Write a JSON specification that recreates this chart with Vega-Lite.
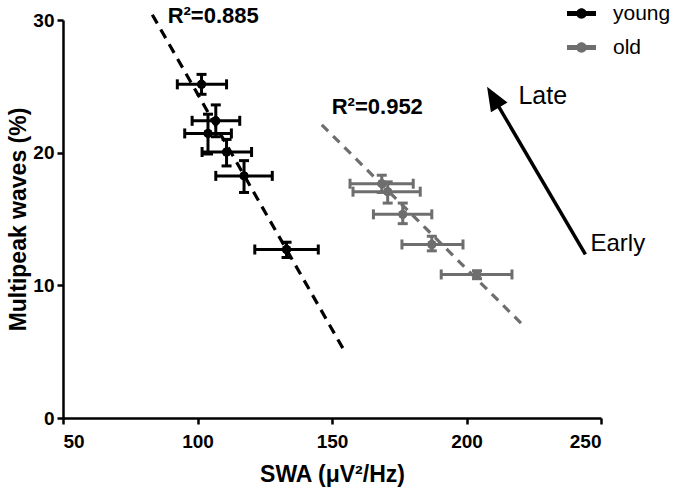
{
  "$schema": "https://vega.github.io/schema/vega-lite/v6.json",
  "width": 538,
  "height": 398,
  "autosize": {"type": "none"},
  "padding": {"left": 63, "top": 20, "right": 74, "bottom": 76},
  "background": "white",
  "config": {
    "view": {"stroke": null},
    "font": "Liberation Sans",
    "axis": {
      "grid": false,
      "domainColor": "black",
      "domainWidth": 2.5,
      "tickColor": "black",
      "tickWidth": 2.5,
      "tickSize": 6,
      "labelFont": "Liberation Sans",
      "labelFontWeight": "bold",
      "labelFontSize": 19,
      "labelColor": "black",
      "titleFont": "Liberation Sans",
      "titleFontWeight": "bold",
      "titleFontSize": 23,
      "titleColor": "black"
    }
  },
  "datasets": {
    "pts": [
      {"group": "young", "swa": 101.5, "swa_lo": 92.5, "swa_hi": 110.8, "mp": 25.15, "mp_lo": 24.4, "mp_hi": 25.9},
      {"group": "young", "swa": 106.8, "swa_lo": 98.0, "swa_hi": 115.7, "mp": 22.4, "mp_lo": 21.2, "mp_hi": 23.6},
      {"group": "young", "swa": 103.9, "swa_lo": 95.25, "swa_hi": 112.6, "mp": 21.45, "mp_lo": 19.9, "mp_hi": 22.9},
      {"group": "young", "swa": 110.8, "swa_lo": 101.7, "swa_hi": 120.1, "mp": 20.05, "mp_lo": 19.0, "mp_hi": 21.0},
      {"group": "young", "swa": 117.3, "swa_lo": 106.8, "swa_hi": 127.8, "mp": 18.25, "mp_lo": 17.0, "mp_hi": 19.4},
      {"group": "young", "swa": 133.1, "swa_lo": 121.3, "swa_hi": 144.9, "mp": 12.7, "mp_lo": 12.1, "mp_hi": 13.25},
      {"group": "old", "swa": 168.5, "swa_lo": 156.7, "swa_hi": 180.2, "mp": 17.66, "mp_lo": 17.0, "mp_hi": 18.3},
      {"group": "old", "swa": 170.7, "swa_lo": 157.8, "swa_hi": 182.8, "mp": 17.06, "mp_lo": 16.2, "mp_hi": 17.8},
      {"group": "old", "swa": 176.3, "swa_lo": 165.4, "swa_hi": 187.1, "mp": 15.35, "mp_lo": 14.65, "mp_hi": 16.2},
      {"group": "old", "swa": 187.1, "swa_lo": 176.0, "swa_hi": 198.7, "mp": 13.08, "mp_lo": 12.6, "mp_hi": 13.7},
      {"group": "old", "swa": 203.9, "swa_lo": 190.6, "swa_hi": 216.9, "mp": 10.82, "mp_lo": 10.5, "mp_hi": 11.1}
    ],
    "fits": [
      {"group": "young", "swa": 83.2, "mp": 30.4},
      {"group": "young", "swa": 154.2, "mp": 5.2},
      {"group": "old", "swa": 146.2, "mp": 22.1},
      {"group": "old", "swa": 221.5, "mp": 6.9}
    ],
    "labels": [
      {"label": "R²=0.885", "swa": 88.9, "mp": 30.28},
      {"label": "R²=0.952", "swa": 149.9, "mp": 23.42}
    ],
    "arrow": [
      {"swa": 244.2, "mp": 12.33, "swa2": 209.9, "mp2": 24.19}
    ],
    "arrowhead": [
      {"swa": 209.9, "mp": 24.19}
    ],
    "notes": [
      {"label": "Late", "swa": 219.3, "mp": 24.27, "size": 25},
      {"label": "Early", "swa": 246.1, "mp": 13.08, "size": 24}
    ]
  },
  "layer": [
    {
      "data": {"name": "pts"},
      "mark": {"type": "point", "shape": "circle", "filled": true, "size": 80, "opacity": 1},
      "encoding": {
        "x": {"field": "swa", "type": "quantitative", "scale": {"domain": [50, 250], "nice": false, "zero": false},
              "axis": {"values": [50, 100, 150, 200, 250], "title": "SWA (μV²/Hz)", "labelPadding": 8, "titlePadding": 12}},
        "y": {"field": "mp", "type": "quantitative", "scale": {"domain": [0, 30], "nice": false},
              "axis": {"values": [0, 10, 20, 30], "title": "Multipeak waves (%)", "labelPadding": 3, "titlePadding": 2}},
        "color": {"field": "group", "type": "nominal", "scale": {"domain": ["young", "old"], "range": ["#000000", "#6e6e6e"]},
          "legend": {
            "orient": "none", "legendX": 504, "legendY": -21, "title": null,
            "symbolType": "M-1,-0.17L1,-0.17L1,0.17L-1,0.17Z M-0.36,0A0.36,0.36 0 1 1 0.36,0A0.36,0.36 0 1 1 -0.36,0Z",
            "symbolSize": 841, "symbolStrokeWidth": 0, "symbolOpacity": 1,
            "labelFont": "Liberation Sans", "labelFontSize": 21, "labelColor": "black",
            "labelOffset": 17, "rowPadding": 9
          }}
      }
    },
    {
      "data": {"name": "fits"},
      "mark": {"type": "line", "strokeWidth": 3.2},
      "encoding": {
        "x": {"field": "swa", "type": "quantitative"},
        "y": {"field": "mp", "type": "quantitative"},
        "color": {"field": "group", "type": "nominal"},
        "strokeDash": {"field": "group", "type": "nominal", "scale": {"domain": ["young", "old"], "range": [[10, 7], [9, 7]]}, "legend": null}
      }
    },
    {
      "data": {"name": "pts"},
      "mark": {"type": "rule", "strokeWidth": 3},
      "encoding": {
        "x": {"field": "swa_lo", "type": "quantitative"},
        "x2": {"field": "swa_hi"},
        "y": {"field": "mp", "type": "quantitative"},
        "color": {"field": "group", "type": "nominal"}
      }
    },
    {
      "data": {"name": "pts"},
      "mark": {"type": "rule", "strokeWidth": 3},
      "encoding": {
        "x": {"field": "swa", "type": "quantitative"},
        "y": {"field": "mp_lo", "type": "quantitative"},
        "y2": {"field": "mp_hi"},
        "color": {"field": "group", "type": "nominal"}
      }
    },
    {
      "data": {"name": "pts"},
      "mark": {"type": "tick", "orient": "vertical", "size": 10, "thickness": 3, "opacity": 1},
      "encoding": {
        "x": {"field": "swa_lo", "type": "quantitative"},
        "y": {"field": "mp", "type": "quantitative"},
        "color": {"field": "group", "type": "nominal"}
      }
    },
    {
      "data": {"name": "pts"},
      "mark": {"type": "tick", "orient": "vertical", "size": 10, "thickness": 3, "opacity": 1},
      "encoding": {
        "x": {"field": "swa_hi", "type": "quantitative"},
        "y": {"field": "mp", "type": "quantitative"},
        "color": {"field": "group", "type": "nominal"}
      }
    },
    {
      "data": {"name": "pts"},
      "mark": {"type": "tick", "orient": "horizontal", "size": 10, "thickness": 3, "opacity": 1},
      "encoding": {
        "x": {"field": "swa", "type": "quantitative"},
        "y": {"field": "mp_lo", "type": "quantitative"},
        "color": {"field": "group", "type": "nominal"}
      }
    },
    {
      "data": {"name": "pts"},
      "mark": {"type": "tick", "orient": "horizontal", "size": 10, "thickness": 3, "opacity": 1},
      "encoding": {
        "x": {"field": "swa", "type": "quantitative"},
        "y": {"field": "mp_hi", "type": "quantitative"},
        "color": {"field": "group", "type": "nominal"}
      }
    },
    {
      "data": {"name": "pts"},
      "mark": {"type": "point", "shape": "circle", "filled": true, "size": 80, "opacity": 1},
      "encoding": {
        "x": {"field": "swa", "type": "quantitative"},
        "y": {"field": "mp", "type": "quantitative"},
        "color": {"field": "group", "type": "nominal"}
      }
    },
    {
      "data": {"name": "labels"},
      "mark": {"type": "text", "align": "left", "baseline": "middle", "fontSize": 22, "fontWeight": "bold", "font": "Liberation Sans", "color": "black"},
      "encoding": {
        "x": {"field": "swa", "type": "quantitative"},
        "y": {"field": "mp", "type": "quantitative"},
        "text": {"field": "label"}
      }
    },
    {
      "data": {"name": "arrow"},
      "mark": {"type": "rule", "strokeWidth": 3.5, "color": "black"},
      "encoding": {
        "x": {"field": "swa", "type": "quantitative"},
        "y": {"field": "mp", "type": "quantitative"},
        "x2": {"field": "swa2"},
        "y2": {"field": "mp2"}
      }
    },
    {
      "data": {"name": "arrowhead"},
      "mark": {"type": "point", "shape": "M0,-1L-0.8,1L0.8,1Z", "filled": true, "size": 576, "angle": 329.6, "color": "black", "opacity": 1},
      "encoding": {
        "x": {"field": "swa", "type": "quantitative"},
        "y": {"field": "mp", "type": "quantitative"}
      }
    },
    {
      "data": {"name": "notes"},
      "mark": {"type": "text", "align": "left", "baseline": "middle", "font": "Liberation Sans", "color": "black"},
      "encoding": {
        "x": {"field": "swa", "type": "quantitative"},
        "y": {"field": "mp", "type": "quantitative"},
        "text": {"field": "label"},
        "size": {"field": "size", "type": "quantitative", "scale": null}
      }
    }
  ]
}
